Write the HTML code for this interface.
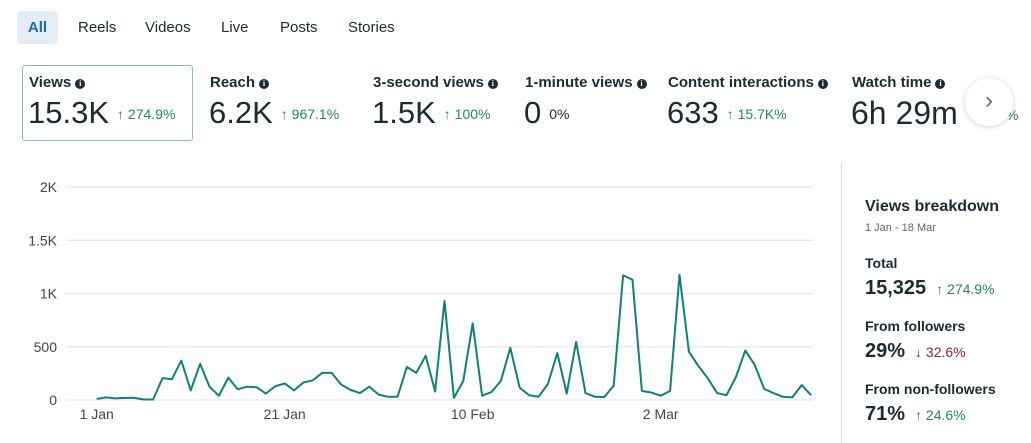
<!DOCTYPE html>
<html><head><meta charset="utf-8"><style>
body{margin:0;width:1031px;height:443px;background:#fff;font-family:"Liberation Sans",sans-serif;color:#1c2b33;position:relative;overflow:hidden}
.a{position:absolute;white-space:nowrap}
.tab{position:absolute;top:11px;height:33px;line-height:33px;font-size:15px;color:#1c2b33}
.lbl{position:absolute;top:74px;font-size:15px;font-weight:bold;color:#1c2b33}
.info{display:inline-block;width:10px;height:10px;border-radius:50%;background:#1c2b33;color:#fff;font-size:8px;line-height:10px;text-align:center;vertical-align:1px;margin-left:4px;font-family:"Liberation Serif",serif;font-weight:bold}
.val{position:absolute;top:95px;font-size:31px;color:#1c2b33}
.chg{font-size:14px;color:#1f8a5b;margin-left:8px;vertical-align:4px}
.rp{position:absolute;left:865px;font-family:"Liberation Sans",sans-serif}
</style></head><body>
<div class="tab" style="left:17px;width:41px;background:#e4ecf4;border-radius:4px;text-align:center;color:#1a6bb8;font-weight:bold">All</div>
<div class="tab" style="left:78px">Reels</div>
<div class="tab" style="left:145px">Videos</div>
<div class="tab" style="left:221px">Live</div>
<div class="tab" style="left:280px">Posts</div>
<div class="tab" style="left:348px">Stories</div>

<div class="a" style="left:22px;top:65px;width:169px;height:74px;border:1px solid #8fb6dd;border-radius:3px"></div>
<div class="lbl" style="left:29px">Views<span class="info">i</span></div>
<div class="val" style="left:28px">15.3K<span class="chg">↑ 274.9%</span></div>
<div class="lbl" style="left:210px">Reach<span class="info">i</span></div>
<div class="val" style="left:209px">6.2K<span class="chg">↑ 967.1%</span></div>
<div class="lbl" style="left:373px">3-second views<span class="info">i</span></div>
<div class="val" style="left:372px">1.5K<span class="chg">↑ 100%</span></div>
<div class="lbl" style="left:525px">1-minute views<span class="info">i</span></div>
<div class="val" style="left:524px">0<span class="chg" style="color:#1c2b33">0%</span></div>
<div class="lbl" style="left:668px">Content interactions<span class="info">i</span></div>
<div class="val" style="left:667px">633<span class="chg">↑ 15.7K%</span></div>
<div class="lbl" style="left:852px">Watch time<span class="info">i</span></div>
<div class="val" style="left:851px;font-size:32px">6h 29m<span class="chg" style="margin-left:14px">↑ 100%</span></div>
<div class="a" style="left:965px;top:78px;width:48px;height:48px;border-radius:50%;background:#fff;box-shadow:0 1px 6px rgba(0,0,0,.18);text-align:center;line-height:46px;font-size:24px;color:#666">›</div>

<svg class="a" style="left:0;top:160px" width="840" height="283"><g id="g"></g></svg>

<div class="a" style="left:841px;top:163px;width:1px;height:280px;background:#dadde1"></div>
<div class="rp" style="top:198px;font-size:16px;font-weight:bold">Views breakdown</div>
<div class="rp" style="top:222px;font-size:11px;color:#65676b">1 Jan - 18 Mar</div>
<div class="rp" style="top:255px;font-size:14px;font-weight:bold">Total</div>
<div class="rp" style="top:277px;font-size:20px;font-weight:bold">15,325<span style="font-size:14px;font-weight:normal;color:#1f8a5b;margin-left:10px">↑ 274.9%</span></div>
<div class="rp" style="top:318px;font-size:14px;font-weight:bold">From followers</div>
<div class="rp" style="top:340px;font-size:20px;font-weight:bold">29%<span style="font-size:14px;font-weight:normal;color:#a01c3c;margin-left:10px">↓ 32.6%</span></div>
<div class="rp" style="top:381px;font-size:14px;font-weight:bold">From non-followers</div>
<div class="rp" style="top:403px;font-size:20px;font-weight:bold">71%<span style="font-size:14px;font-weight:normal;color:#1f8a5b;margin-left:10px">↑ 24.6%</span></div>

<script>
const views=[10,25,15,20,20,5,5,205,195,370,90,340,125,40,210,100,125,120,60,130,155,90,165,185,255,255,145,95,65,125,50,30,30,310,255,415,80,930,20,180,720,40,75,180,490,115,45,30,150,440,60,545,65,30,28,135,1170,1130,85,70,40,85,1175,455,320,205,65,45,215,465,330,105,65,30,25,140,45];
const yTicks=[0,500,1000,1500,2000];
const yTickLabels=["0","500","1K","1.5K","2K"];
const xTickIdx=[0,20,40,60];
const xTickLabels=["1 Jan","21 Jan","10 Feb","2 Mar"];
const NS="http://www.w3.org/2000/svg",g=document.getElementById('g');
const y=v=>240-v*(213/2000), x=i=>96.7+i*9.4;
function mk(t,a){const e=document.createElementNS(NS,t);for(const k in a)e.setAttribute(k,a[k]);g.appendChild(e);return e;}
yTicks.forEach((v,i)=>{
 const l=mk('line',{x1:66,x2:813,y1:y(v),y2:y(v),stroke:'#e4e6eb','stroke-width':1.2});
 
 
 const t=mk('text',{x:57,y:y(v)+5,'text-anchor':'end','font-size':14,fill:'#444','font-family':'Liberation Sans, sans-serif'});
 t.textContent=yTickLabels[i];
 
 
});
xTickIdx.forEach((d,i)=>{
 const t=mk('text',{x:x(d),y:259,'text-anchor':'middle','font-size':14,fill:'#444','font-family':'Liberation Sans, sans-serif'});
 t.textContent=xTickLabels[i];
 
 
});
const p=mk('polyline',{points:views.map((v,i)=>x(i)+','+y(v)).join(' '),fill:'none',stroke:'#10807c','stroke-width':2,'stroke-linejoin':'round'});


</script>
</body></html>
